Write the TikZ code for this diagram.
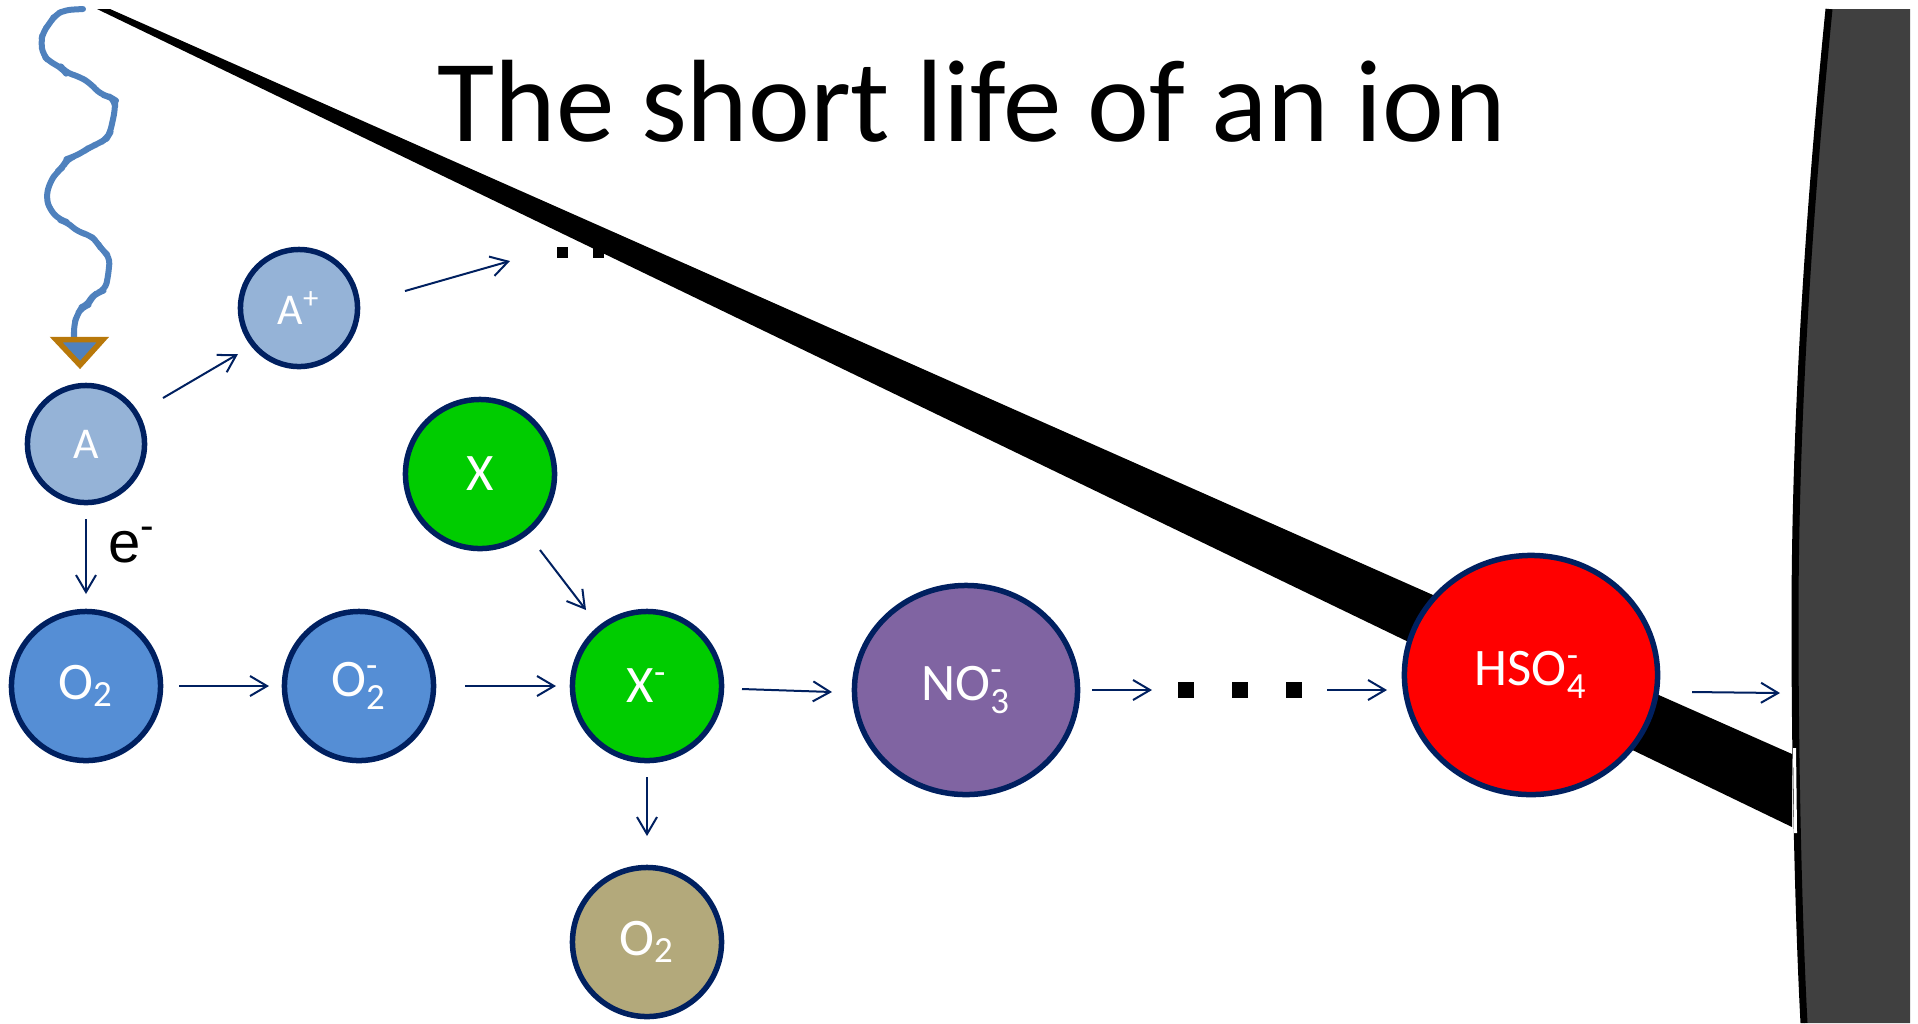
\documentclass[tikz,border=0pt]{standalone}
\usepackage{fontspec}
\usepackage{amsmath}
\setmainfont{Carlito}
\newfontfamily\arialf{Liberation Sans}
\usetikzlibrary{arrows.meta,calc,shapes.geometric}
\definecolor{navy}{RGB}{0,32,96}
\definecolor{lblue}{RGB}{149,179,215}
\definecolor{mblue}{RGB}{85,142,213}
\definecolor{xgreen}{RGB}{0,204,0}
\definecolor{khaki}{RGB}{179,169,123}
\definecolor{purp}{RGB}{128,100,162}
\definecolor{wallgray}{RGB}{64,64,64}
\definecolor{wavyblue}{RGB}{79,129,189}
\definecolor{tri}{RGB}{184,120,10}
\newcommand{\sbs}[1]{$_{\text{#1}}$}
\newcommand{\sbsp}[2]{$_{\text{#1}}^{\text{#2}}$}
\begin{document}
\begin{tikzpicture}[x=0.01cm,y=-0.01cm,
  ion/.style={circle, draw=navy, line width=0.055cm, text=white, inner sep=0pt, outer sep=0pt, font=\fontsize{15}{17}\selectfont},
  smallion/.style={ion, minimum size=1.17cm, fill=lblue, font=\fontsize{12.5}{14}\selectfont},
  bigion/.style={ion, minimum size=1.49cm},
  arr/.style={draw=navy, line width=0.02cm, -{Straight Barb[length=0.17cm,width=0.2cm,line width=0.02cm]}},
  dotsq/.style={fill=black, inner sep=0pt, outer sep=0pt, minimum size=#1},
  band/.style={fill=black}
]
\useasboundingbox (0,0) rectangle (1918,1023);

% wall
\fill[wallgray] (1829,9) .. controls (1805,250) and (1795,450) .. (1795,620)
  .. controls (1795,800) and (1800,950) .. (1804,1023) -- (1910,1023) -- (1910,9) -- cycle;
\draw[black, line width=0.07cm] (1829,9) .. controls (1805,250) and (1795,450) .. (1795,620)
  .. controls (1795,800) and (1800,950) .. (1804,1023);

% upper dots (partly hidden by the band)
\node[dotsq=0.11cm] (u1) at (562,252) {};
\node[dotsq=0.11cm] (u2) at (598,252) {};
\node[dotsq=0.11cm] (u3) at (634,252) {};

% band
\fill[band] (97,9) -- (110,9) -- (1792,754) -- (1792,827) -- cycle;
\draw[white, line width=0.03cm] (1794.5,748) -- (1795.5,833);

% wavy line and triangle
\draw[wavyblue, line width=0.06cm, line join=round, line cap=round, rounded corners=2]
  (83,9) -- (65,10) -- (55,15) -- (50,23) -- (43,32) -- (41,42) -- (43,55) -- (50,62) -- (62,68)
  -- (65,72) -- (80,77) -- (90,83) -- (100,94) -- (110,97) -- (115,100) -- (115,110) -- (110,133)
  -- (107,138) -- (100,143) -- (90,147) -- (83,152) -- (73,157) -- (67,159) -- (63,167) -- (57,172)
  -- (50,182) -- (46,197) -- (50,210) -- (60,220) -- (67,222) -- (78,232) -- (90,235) -- (97,242)
  -- (102,250) -- (110,257) -- (108,277) -- (105,290) -- (97,293) -- (91,298) -- (88,305) -- (82,307)
  -- (77,315) -- (74,325) -- (74,338);
\filldraw[fill=wavyblue, draw=tri, line width=0.055cm] (56,339.5) -- (103,339.5) -- (80,365) -- cycle;

% nodes
\node[smallion] (A) at (86,444) {A};
\node[smallion] (Ap) at (299,308) {A\textsuperscript{+}};
\node[bigion, fill=mblue] (O2a) at (86,686) {O\sbs{2}};
\node[bigion, fill=mblue] (O2m) at (359,686) {O\sbsp{2}{-}};
\node[bigion, fill=xgreen] (X) at (480,474) {X};
\node[bigion, fill=xgreen] (Xm) at (647,686) {X\textsuperscript{-}};
\node[bigion, fill=khaki] (O2b) at (647,942) {O\sbs{2}};
\node[ion, ellipse, fill=purp, minimum width=2.23cm, minimum height=2.09cm] (NO3) at (966,690) {NO\sbsp{3}{-}};
\node[ion, ellipse, fill=red, minimum width=2.53cm, minimum height=2.39cm] (HSO4) at (1531,675) {HSO\sbsp{4}{-}};

% lower dots
\node[dotsq=0.16cm] (d1) at (1186,690) {};
\node[dotsq=0.16cm] (d2) at (1240,690) {};
\node[dotsq=0.16cm] (d3) at (1294,690) {};

\coordinate (wallpt) at (1780,693);

% arrows
\draw[arr] ($(A)+(77,-46)$) -- ($(Ap)+(-61,46)$);
\draw[arr] ($(Ap)+(106,-17)$) -- ($(u1)+(-52,9)$);
\draw[arr] ($(A)+(0,75)$) -- ($(O2a)+(0,-92)$);
\draw[arr] ($(O2a)+(93,0)$) -- ($(O2m)+(-90,0)$);
\draw[arr] ($(O2m)+(106,0)$) -- ($(Xm)+(-91,0)$);
\draw[arr] ($(X)+(60,76)$) -- ($(Xm)+(-61,-76)$);
\draw[arr] ($(Xm)+(0,91)$) -- ($(O2b)+(0,-106)$);
\draw[arr] ($(Xm)+(95,3)$) -- ($(NO3)+(-134,2)$);
\draw[arr] ($(NO3)+(126,0)$) -- ($(d1)+(-34,0)$);
\draw[arr] ($(d3)+(33,0)$) -- ($(HSO4)+(-144,15)$);
\draw[arr] ($(HSO4)+(161,17)$) -- (wallpt);

% labels
\node[anchor=base west, inner sep=0pt, font=\arialf\fontsize{16.5}{18}\selectfont] (elab) at (108,562) {e\textsuperscript{-}};
\node[anchor=base, inner sep=0pt, font=\fontsize{33.3}{40}\selectfont] (title) at (972,141) {The short life of an ion};
\end{tikzpicture}
\end{document}
